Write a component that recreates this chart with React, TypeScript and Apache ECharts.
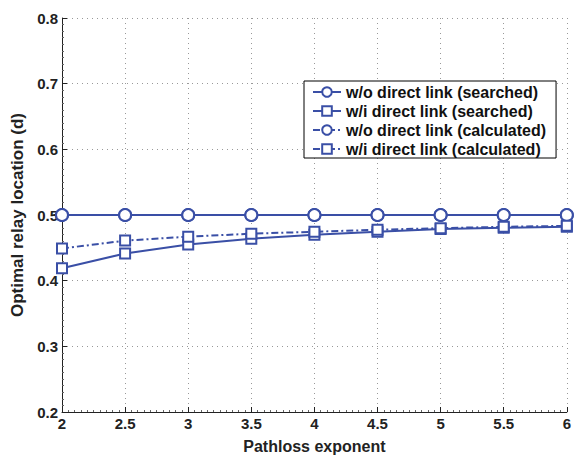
import React, { useEffect, useRef } from "react";
import * as echarts from "echarts";

const xValues = [2, 2.5, 3, 3.5, 4, 4.5, 5, 5.5, 6];
const woSearched = [0.5, 0.5, 0.5, 0.5, 0.5, 0.5, 0.5, 0.5, 0.5];
const wiSearched = [0.419, 0.4415, 0.455, 0.464, 0.47, 0.4745, 0.4785, 0.4805, 0.482];
const woCalculated = [0.5, 0.5, 0.5, 0.5, 0.5, 0.5, 0.5, 0.5, 0.5];
const wiCalculated = [0.449, 0.461, 0.467, 0.4715, 0.4745, 0.4775, 0.48, 0.482, 0.4835];
const seriesNames = [
  "w/o direct link (searched)",
  "w/i direct link (searched)",
  "w/o direct link (calculated)",
  "w/i direct link (calculated)",
];

const BLUE = "#3a4fa6";
const FONT = "Liberation Sans, Arial, Helvetica, sans-serif";

export default function App() {
  const ref = useRef<HTMLDivElement>(null);
  useEffect(() => {
    if (!ref.current) return;
    const chart = echarts.init(ref.current, undefined, { renderer: "svg" });
    const mk = (name: string, vals: number[], symbol: string, size: number, dashed: boolean) => ({
      name,
      type: "line",
      data: xValues.map((x, i) => [x, vals[i]]),
      symbol,
      symbolSize: size,
      showAllSymbol: true,
      itemStyle: { color: "#ffffff", borderColor: BLUE, borderWidth: 2 },
      lineStyle: { color: BLUE, width: 2, type: dashed ? [7, 3, 2, 3] : "solid" },
      emphasis: { disabled: true },
    });
    chart.setOption({
      animation: false,
      textStyle: { fontFamily: FONT },
      grid: { left: 62, right: 4, top: 18, bottom: 41, containLabel: false },
      legend: {
        left: 304,
        top: 81,
        orient: "vertical",
        backgroundColor: "#ffffff",
        borderColor: "#000000",
        borderWidth: 1,
        borderRadius: 0,
        padding: [3, 10, 1, 8],
        itemGap: 3,
        itemWidth: 28,
        itemHeight: 12,
        textStyle: { fontFamily: FONT, fontWeight: "bold", fontSize: 16, color: "#111" },
        data: seriesNames,
      },
      xAxis: {
        type: "value",
        min: 2,
        max: 6,
        interval: 0.5,
        name: "Pathloss exponent",
        nameLocation: "middle",
        nameGap: 26,
        nameTextStyle: { fontFamily: FONT, fontWeight: "bold", fontSize: 16, color: "#222" },
        axisLine: { onZero: false, lineStyle: { color: "#222", width: 1 } },
        axisTick: { inside: true, length: 5, lineStyle: { color: "#222" } },
        minorTick: { show: true, splitNumber: 10, length: 2, lineStyle: { color: "#666" } },
        axisLabel: { fontFamily: FONT, fontWeight: "bold", fontSize: 15, color: "#222", margin: 4 },
        splitLine: { show: true, lineStyle: { color: "#999", type: [1, 4], width: 1 } },
      },
      yAxis: {
        type: "value",
        min: 0.2,
        max: 0.8,
        interval: 0.1,
        name: "Optimal relay location (d)",
        nameLocation: "middle",
        nameGap: 34,
        nameTextStyle: { fontFamily: FONT, fontWeight: "bold", fontSize: 17, color: "#222" },
        axisLine: { show: true, onZero: false, lineStyle: { color: "#222", width: 1 } },
        axisTick: { show: true, inside: true, length: 5, lineStyle: { color: "#222" } },
        minorTick: { show: true, splitNumber: 10, length: 2, lineStyle: { color: "#666" } },
        axisLabel: {
          fontFamily: FONT,
          fontWeight: "bold",
          fontSize: 15,
          color: "#222",
          margin: 4,
          formatter: (v: number) => v.toFixed(1),
        },
        splitLine: { show: true, lineStyle: { color: "#999", type: [1, 4], width: 1 } },
      },
      series: [
        mk(seriesNames[0], woSearched, "circle", 12, false),
        mk(seriesNames[1], wiSearched, "rect", 10, false),
        mk(seriesNames[2], woCalculated, "circle", 12, true),
        mk(seriesNames[3], wiCalculated, "rect", 10, true),
      ],
    });
    return () => chart.dispose();
  }, []);
  return <div ref={ref} style={{ width: 574, height: 459, position: "absolute", left: 0, top: 0, background: "#fff" }} />;
}
